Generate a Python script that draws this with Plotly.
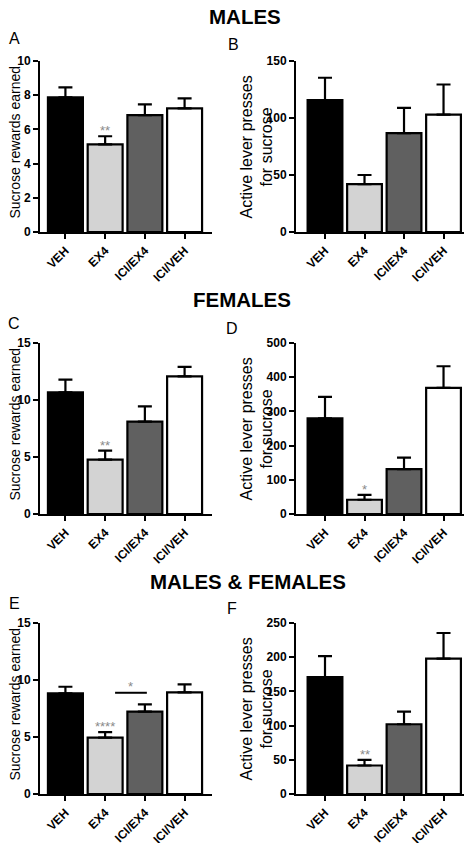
import plotly.graph_objects as go

categories = ["VEH", "EX4", "ICI/EX4", "ICI/VEH"]
bar_colors = ["#000000", "#d3d3d3", "#606060", "#ffffff"]

A_mean = [7.87, 5.12, 6.84, 7.23]
A_sem = [0.59, 0.48, 0.62, 0.58]
B_mean = [115.6, 42.0, 86.8, 103.0]
B_sem = [19.7, 8.0, 22.0, 26.4]
C_mean = [10.67, 4.77, 8.10, 12.08]
C_sem = [1.11, 0.79, 1.34, 0.82]
D_mean = [279.6, 41.7, 131.0, 369.0]
D_sem = [63.0, 14.3, 34.0, 63.0]
E_mean = [8.83, 4.95, 7.22, 8.91]
E_sem = [0.58, 0.47, 0.64, 0.70]
F_mean = [171.0, 41.7, 102.0, 198.0]
F_sem = [30.5, 8.3, 18.4, 37.4]

A_ticks = [0, 2, 4, 6, 8, 10]
B_ticks = [0, 50, 100, 150]
C_ticks = [0, 5, 10, 15]
D_ticks = [0, 100, 200, 300, 400, 500]
E_ticks = [0, 5, 10, 15]
F_ticks = [0, 50, 100, 150, 200, 250]

A_sig = ["", "**", "", ""]
B_sig = ["", "", "", ""]
C_sig = ["", "**", "", ""]
D_sig = ["", "*", "", ""]
E_sig = ["", "****", "", ""]
F_sig = ["", "**", "", ""]

section_titles = ["MALES", "FEMALES", "MALES & FEMALES"]
panel_letters = ["A", "B", "C", "D", "E", "F"]
left_title = "Sucrose rewards earned"
right_title = "Active lever presses<br>for sucrose"

FONT = "Arial, Liberation Sans, sans-serif"
OFF = 8                       # page body margin of the browser
W, H = 472 - OFF, 843 - OFF   # figure size so that it fits the window


def px(x):
    return (x - OFF) / W


def py(y):
    return 1 - (y - OFF) / H


panels = [
    (A_mean, A_sem, A_ticks, A_sig, left_title),
    (B_mean, B_sem, B_ticks, B_sig, right_title),
    (C_mean, C_sem, C_ticks, C_sig, left_title),
    (D_mean, D_sem, D_ticks, D_sig, right_title),
    (E_mean, E_sem, E_ticks, E_sig, left_title),
    (F_mean, F_sem, F_ticks, F_sig, right_title),
]

# pixel layout (window coordinates)
col_x = [(40, 212), (296, 470)]
row_y = [(61, 232), (343, 514), (623, 794)]
col_range = [[-0.64, 3.69], [-0.734, 3.67]]
ytitle_x = [14, 256]
ytitle_dy = [-4, 0]
ytitle_size = [14, 16]

fig = go.Figure()
layout = dict(
    width=W, height=H, margin=dict(l=0, r=0, t=0, b=0, autoexpand=False),
    paper_bgcolor="white", plot_bgcolor="white", showlegend=False,
    font=dict(family=FONT, color="black"), bargap=0.12,
)
annotations = []
shapes = []

for i, (mean, sem, ticks, sig, ytitle) in enumerate(panels):
    r, c = divmod(i, 2)
    n = i + 1
    xa = "x" if n == 1 else f"x{n}"
    ya = "y" if n == 1 else f"y{n}"
    fig.add_trace(go.Bar(
        x=categories, y=mean, xaxis=xa, yaxis=ya, width=0.88,
        marker=dict(color=bar_colors, line=dict(color="black", width=2.2)),
        error_y=dict(type="data", symmetric=False, array=sem,
                     arrayminus=[0] * len(sem), color="black",
                     thickness=2.2, width=7),
    ))
    x0, x1 = col_x[c]
    yt, yb = row_y[r]
    xkey = "xaxis" if n == 1 else f"xaxis{n}"
    ykey = "yaxis" if n == 1 else f"yaxis{n}"
    layout[xkey] = dict(
        domain=[px(x0), min(px(x1), 1)], anchor=ya, type="category", automargin=False,
        range=col_range[c], showline=True, linecolor="black", linewidth=2,
        ticks="outside", ticklen=5, tickwidth=2, tickcolor="black",
        tickangle=-45, showgrid=False, zeroline=False,
        tickfont=dict(family=FONT, size=12, color="black", weight="bold"),
    )
    layout[ykey] = dict(
        domain=[py(yb), py(yt)], anchor=xa, automargin=False,
        range=[0, ticks[-1]], tickvals=ticks, showline=True,
        linecolor="black", linewidth=2, ticks="outside", ticklen=5,
        tickwidth=2, tickcolor="black", showgrid=False, zeroline=False,
        tickfont=dict(family=FONT, size=12, color="black", weight="bold"),
    )
    # y-axis title, placed as rotated text beside the axis
    annotations.append(dict(
        x=px(ytitle_x[c]), y=py((yt + yb) / 2 + ytitle_dy[c]),
        xref="paper", yref="paper", text=ytitle, textangle=-90,
        showarrow=False, xanchor="center", yanchor="middle",
        font=dict(family=FONT, size=ytitle_size[c], color="black"),
    ))
    for k, s in enumerate(sig):
        if s:
            annotations.append(dict(
                x=categories[k], y=mean[k] + sem[k], xref=xa, yref=ya,
                text=s, showarrow=False, yanchor="bottom", xanchor="center",
                yshift=-4, font=dict(family=FONT, size=13, color="#8a8a8a"),
            ))

# bracket in panel E
shapes.append(dict(type="line", xref="x5", yref="y5", x0=1.25, x1=2.05,
                   y0=8.88, y1=8.88, line=dict(color="black", width=2)))
annotations.append(dict(x=1.65, y=8.88, xref="x5", yref="y5", text="*",
                        showarrow=False, yanchor="bottom", xanchor="center",
                        yshift=-3, font=dict(family=FONT, size=13, color="#8a8a8a")))

# section titles
for t, (tx, ty) in zip(section_titles, [(245, 17), (242, 299), (248, 581)]):
    annotations.append(dict(x=px(tx), y=py(ty), xref="paper", yref="paper",
                            text=f"<b>{t}</b>", showarrow=False,
                            xanchor="center", yanchor="middle",
                            font=dict(family=FONT, size=20.5, color="black")))

letter_pos = [(14, 39), (233, 44), (14, 323), (232, 328), (14, 603), (232, 608)]
for L, (lx, ly) in zip(panel_letters, letter_pos):
    annotations.append(dict(x=px(lx), y=py(ly), xref="paper", yref="paper",
                            text=L, showarrow=False,
                            xanchor="center", yanchor="middle",
                            font=dict(family=FONT, size=16, color="black")))

layout["annotations"] = annotations
layout["shapes"] = shapes
fig.update_layout(**layout)
fig.write_html("out.html")
